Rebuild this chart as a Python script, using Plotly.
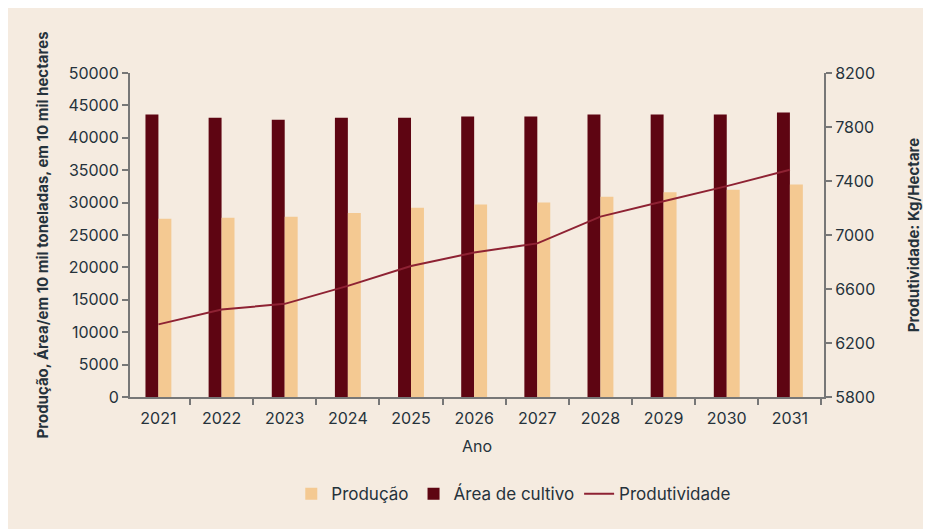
import plotly.graph_objects as go

anos = ["2021", "2022", "2023", "2024", "2025", "2026", "2027", "2028", "2029", "2030", "2031"]
producao = [27500, 27650, 27800, 28400, 29200, 29700, 30000, 30900, 31600, 32000, 32800]
area_cultivo = [43600, 43100, 42800, 43100, 43100, 43300, 43300, 43600, 43600, 43600, 43900]
produtividade = [6338, 6448, 6490, 6623, 6770, 6870, 6938, 7136, 7250, 7362, 7483]

left_ticks = [0, 5000, 10000, 15000, 20000, 25000, 30000, 35000, 40000, 45000, 50000]
right_ticks = [5800, 6200, 6600, 7000, 7400, 7800, 8200]

BG = "#F5EBE0"
TXT = "#25323B"
AXC = "#777777"
FONT = "Inter, Open Sans, sans-serif"

fig = go.Figure()
fig.add_trace(go.Bar(x=anos, y=area_cultivo, name="Área de cultivo",
                     marker=dict(color="#5E0512", line=dict(width=0)), legendrank=2))
fig.add_trace(go.Bar(x=anos, y=producao, name="Produção",
                     marker=dict(color="#F4C992", line=dict(width=0)), legendrank=1))
fig.add_trace(go.Scatter(x=anos, y=produtividade, name="Produtividade", yaxis="y2",
                         mode="lines", line=dict(color="#8E2233", width=2), legendrank=3))

fig.update_layout(
    width=923, height=522,
    margin=dict(l=122, r=107, t=65, b=133),
    paper_bgcolor=BG, plot_bgcolor=BG,
    font=dict(family=FONT, color=TXT, size=16),
    barmode="group", bargap=0.59, bargroupgap=0,
    showlegend=True,
    legend=dict(orientation="h", x=0.553, xanchor="center", y=-0.3, yanchor="middle",
                font=dict(size=17), bgcolor="rgba(0,0,0,0)", itemwidth=30),
    xaxis=dict(type="category", range=[-0.45, 10.54], tickson="boundaries",
               ticks="outside", ticklen=6, tickwidth=2, tickcolor=AXC,
               showline=True, linecolor=AXC, linewidth=2, showgrid=False,
               ticklabelstandoff=6,
               title=dict(text="Ano", standoff=14, font=dict(size=16)),
               tickfont=dict(size=16)),
    yaxis=dict(range=[0, 50000], tickvals=left_ticks, tickformat="d", ticks="outside", ticklen=6,
               tickwidth=2, tickcolor=AXC, showline=True, linecolor=AXC, linewidth=2,
               showgrid=False, zeroline=False, tickfont=dict(size=16),
               title=dict(text="<b>Produção, Área/em 10 mil toneladas, em 10 mil hectares</b>",
                          standoff=16, font=dict(size=15))),
    yaxis2=dict(range=[5800, 8200], tickvals=right_ticks, overlaying="y", side="right",
                ticks="outside", ticklen=6, tickwidth=2, tickcolor=AXC, showline=True,
                linecolor=AXC, linewidth=2, showgrid=False, zeroline=False,
                tickfont=dict(size=16),
                title=dict(text="<b>Produtividade: Kg/Hectare</b>", standoff=34,
                           font=dict(size=15))),
)

fig.write_html("out.html")
